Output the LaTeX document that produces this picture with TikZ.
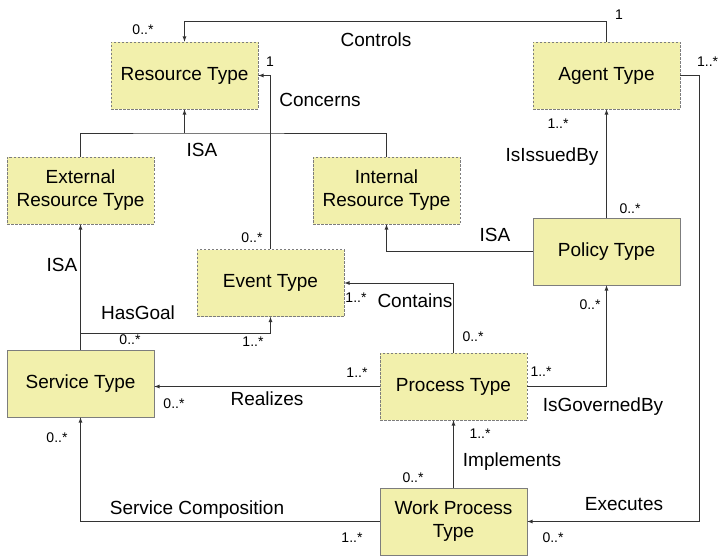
\documentclass[tikz,border=0pt]{standalone}
\usepackage{fontspec}
\setmainfont{Liberation Sans}
\usetikzlibrary{arrows}

\definecolor{typefill}{RGB}{242,240,172}
\definecolor{typeline}{RGB}{125,125,125}

\begin{document}
\begin{tikzpicture}[x=1pt,y=-1pt,>=latex,line width=0.8pt,
  font=\fontsize{19}{23}\selectfont,
  typebox/.style={draw=typeline,fill=typefill,line width=0.7pt,minimum width=147pt,minimum height=67pt,inner sep=0pt,align=center},
  abstractbox/.style={typebox,dash pattern=on 2.5pt off 1.5pt},
  mult/.style={font=\fontsize{14}{16}\selectfont},
  link/.style={draw=black!80}]

\useasboundingbox (0,0) rectangle (719,556);

% Types
\node[abstractbox] (res) at (184.5,75.5) {Resource Type};
\node[abstractbox] (agent) at (606.5,75.5) {Agent Type};
\node[abstractbox] (ext) at (80.5,190.5) {External\\Resource Type};
\node[abstractbox] (int) at (386.5,190.5) {Internal\\Resource Type};
\node[abstractbox] (event) at (270.5,283) {Event Type};
\node[typebox] (pol) at (606.5,251.5) {Policy Type};
\node[typebox] (svc) at (80.5,383.5) {Service Type};
\node[abstractbox] (proc) at (453.5,386.5) {Process Type};
\node[typebox] (wp) at (453.5,521.5) {Work Process\\Type};

% Controls
\draw[link,->] (agent.north) -- ++(0,-20) -| (res.north);
\node[mult] (ctl1) at (619,15) {1};
\node[mult] (ctl0) at (143,30) {0..*};
\node (ctl) at (376,40) {Controls};

% Concerns
\draw[link,->] (event.north) |- (res.east);
\node[mult] (con1) at (270,62) {1};
\node[mult] (con0) at (252,238) {0..*};
\node (con) at (320,100) {Concerns};

% ISA resources
\coordinate (isa) at (184.5,133);
\draw[link] (ext.north) |- (isa) -| (int.north);
\draw[link,->] (isa) -- (res.south);
\node (isal) at (202,150) {ISA};
\draw[link,->] (svc.north) -- (ext.south);
\node (isas) at (62,265) {ISA};
\draw[link,->] (pol.west) -| (int.south);
\node (isap) at (495,235) {ISA};

% HasGoal
\coordinate (goal) at (80.5,333);
\draw[link,->] (goal) -| (event.south);
\node (hg) at (138,313) {HasGoal};
\node[mult] (hg0) at (130,340) {0..*};
\node[mult] (hg1) at (253,342) {1..*};

% Contains
\draw[link,->] (proc.north) |- (event.east);
\node[mult] (ct1) at (356,298) {1..*};
\node (ct) at (415,301) {Contains};
\node[mult] (ct0) at (473,337) {0..*};

% Realizes
\draw[link,->] (proc.west) -- (proc.west -| svc.east);
\node[mult] (rz1) at (357,373) {1..*};
\node[mult] (rz0) at (174,404) {0..*};
\node (rz) at (267,399) {Realizes};

% IsGovernedBy
\draw[link,->] (proc.east) -| (pol.south);
\node[mult] (gv1) at (541,372) {1..*};
\node[mult] (gv0) at (590,305) {0..*};
\node (gv) at (603,407) {IsGovernedBy};

% IsIssuedBy
\draw[link,->] (pol.north) -- (agent.south);
\node[mult] (is1) at (558,124) {1..*};
\node[mult] (is0) at (630,209) {0..*};
\node (is) at (552,157) {IsIssuedBy};

% Executes
\draw[link,->] (agent.east) -- ++(19,0) |- (wp.east);
\node[mult,anchor=east,inner sep=0.5pt] (ex1) at (719,62) {1..*};
\node (ex) at (624,504) {Executes};
\node[mult] (ex0) at (553,538) {0..*};

% Implements
\draw[link,->] (wp.north) -- (proc.south);
\node[mult] (im1) at (480,434) {1..*};
\node[mult] (im0) at (413,478) {0..*};
\node (im) at (512,462) {Implements};

% Service Composition
\draw[link,->] (wp.west) -| (svc.south);
\node[mult] (sc0) at (57,438) {0..*};
\node[mult] (sc1) at (352,538) {1..*};
\node (sc) at (197,510) {Service Composition};
\end{tikzpicture}
\end{document}
